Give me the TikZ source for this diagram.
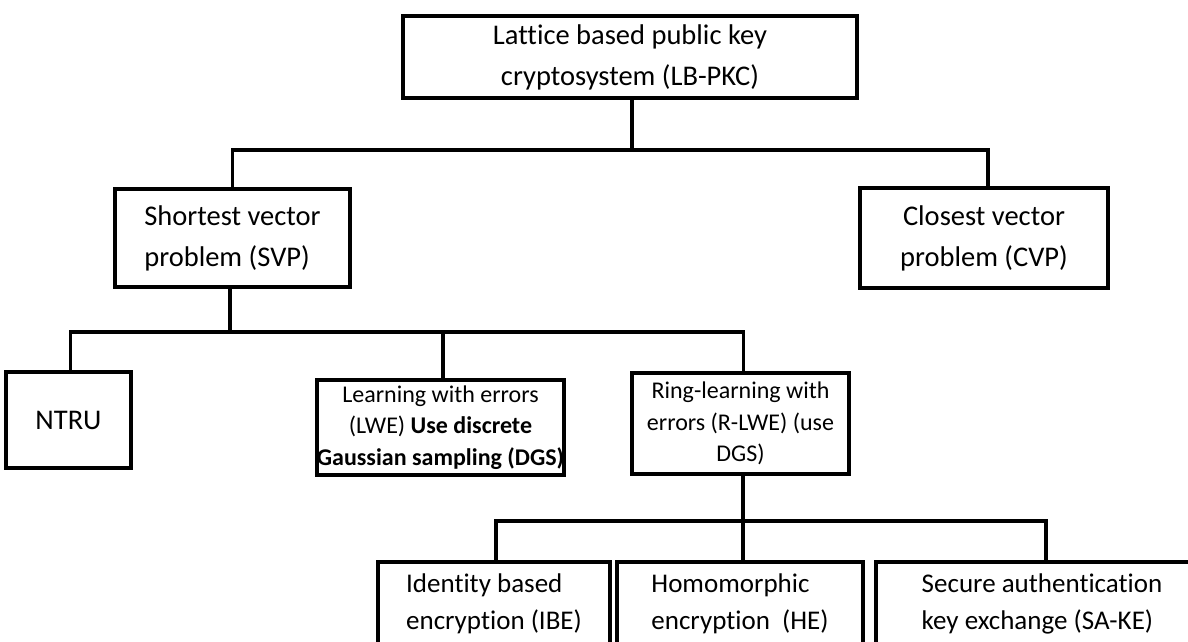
\documentclass[tikz,border=0pt]{standalone}
\usepackage{fontspec}
\setmainfont[Ligatures={NoCommon}]{Carlito}
\begin{document}
\begin{tikzpicture}[x=1pt,y=-1pt,
  box/.style={draw=black, line width=4pt, fill=white, inner sep=0pt, text=black},
  bigtext/.style={font=\fontsize{28.5}{41}\selectfont},
  smalltext/.style={font=\fontsize{24}{31.5}\selectfont},
  leaftext/.style={font=\fontsize{27}{37}\selectfont},
  link/.style={draw=black, line width=3.5pt, line cap=rect}]
\path[use as bounding box] (0,0) rectangle (1188,641);
\clip (0,0) rectangle (1188,641);

% root
\node[box, bigtext, align=center, minimum width=454pt, minimum height=82pt] (root) at (630,57)
  {Lattice based public key\\cryptosystem (LB-PKC)};

% hard problems
\node[box, bigtext, align=left, minimum width=235pt, minimum height=98pt] (svp) at (232.5,238)
  {Shortest vector\\problem (SVP)};
\node[box, bigtext, align=center, minimum width=248pt, minimum height=100pt] (cvp) at (984,238)
  {Closest vector\\problem (CVP)};

% SVP based schemes
\node[box, bigtext, minimum width=125pt, minimum height=96pt] (ntru) at (68.5,420) {NTRU};
\node[box, smalltext, align=center, minimum width=245pt, minimum height=95pt] (lwe) at (440.5,427.5)
  {Learning with errors\\(LWE) \textbf{Use discrete}\\\textbf{Gaussian sampling (DGS)}};
\node[box, smalltext, align=center, minimum width=217pt, minimum height=101pt] (rlwe) at (740.5,423.5)
  {Ring-learning with\\errors (R-LWE) (use\\DGS)};

% R-LWE applications
\node[box, leaftext, align=left, minimum width=232pt, minimum height=84pt] (ibe) at (494,604)
  {Identity based\\encryption (IBE)};
\node[box, leaftext, align=left, minimum width=246pt, minimum height=84pt] (he) at (740,604)
  {Homomorphic\\encryption\ \ (HE)};
\node[box, leaftext, align=left, minimum width=332pt, minimum height=84pt] (sake) at (1042,604)
  {Secure authentication\\key exchange (SA-KE)};

% bus junctions
\coordinate (j1) at (632,150);
\coordinate (j2) at (230,332);
\coordinate (j3) at (743,521);

% connectors
\draw[link] (root.south -| j1) -- (j1);
\draw[link] (j1) -| (svp.north);
\draw[link] (j1) -| ([xshift=4pt]cvp.north);

\draw[link] (svp.south -| j2) -- (j2);
\draw[link] (j2) -| ([xshift=2pt]ntru.north);
\draw[link] (j2) -| ([xshift=2.5pt]lwe.north);
\draw[link] (j2) -| ([xshift=3pt]rlwe.north);

\draw[link] (rlwe.south -| j3) -- (j3);
\draw[link] (j3) -| ([xshift=2pt]ibe.north);
\draw[link] (j3) -- (j3 |- he.north);
\draw[link] (j3) -| ([xshift=4pt]sake.north);
\end{tikzpicture}
\end{document}
